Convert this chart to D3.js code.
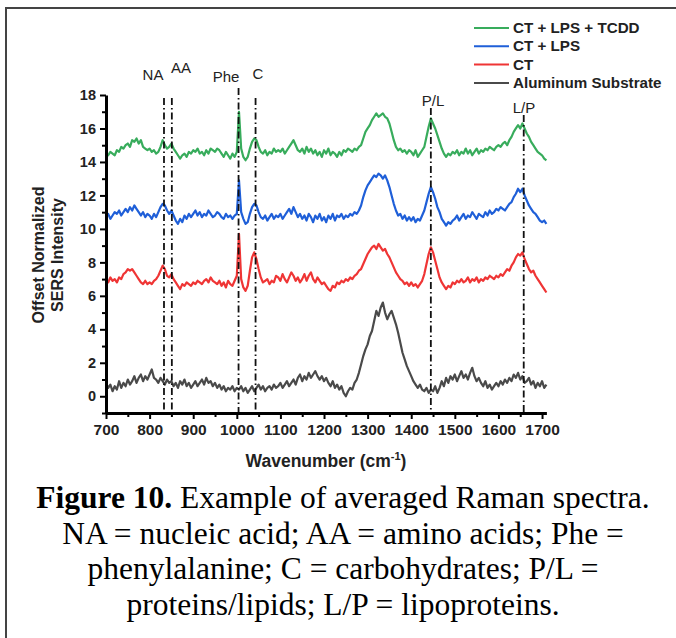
<!DOCTYPE html>
<html lang="en">
<head>
  <meta charset="UTF-8">
  <title>Averaged Raman spectra</title>
  <script src="https://d3js.org/d3.v7.min.js"></script>
  <style>
    body { margin: 0; background: #fff; }
    .axis path.domain { stroke: #000; stroke-width: 3; }
    .axis line { stroke: #000; stroke-width: 2; }
    .axis text { font-family: "Liberation Sans", Arial, sans-serif; font-weight: bold; fill: #222; }
    .xaxis text { font-size: 15.5px; }
    .yaxis text { font-size: 14.5px; }
    .spec { fill: none; stroke-width: 2.2; stroke-linejoin: round; }
  </style>
</head>
<body>
<div id="chart"></div>
<script>
// wavenumbers, every 5 cm-1 from 700 to 1710
const wavenumbers = d3.range(700, 1711, 5);

// series values (offset normalized intensity)
const tcdd = [
  14.5,14.4,14.6,14.5,14.4,14.7,14.6,14.9,14.8,15.0,15.1,14.9,15.3,15.2,15.4,15.1,15.3,14.9,14.8,14.7,
  14.8,14.6,14.7,14.5,14.6,14.9,15.3,15.0,14.8,14.9,15.1,14.8,14.6,14.4,14.2,14.4,14.5,14.3,14.6,14.5,
  14.7,14.6,14.8,14.5,14.6,14.4,14.7,14.5,14.8,14.7,14.6,14.8,14.7,14.5,14.3,14.6,14.4,14.2,14.5,14.3,
  14.6,17.0,14.8,14.3,14.1,14.3,14.8,15.2,15.4,15.3,14.9,14.6,14.5,14.7,14.4,14.6,14.5,14.8,14.6,14.7,
  14.6,14.8,14.5,14.7,14.9,15.1,15.3,15.0,14.7,14.6,14.8,14.5,14.9,14.6,14.8,14.5,14.7,14.4,14.6,14.3,
  14.7,14.5,14.8,14.4,14.6,14.5,14.3,14.6,14.4,14.7,14.6,14.8,14.7,14.6,14.8,14.7,14.9,15.0,15.4,15.8,
  16.0,16.2,16.5,16.7,16.9,16.7,16.8,16.9,16.7,16.6,16.3,15.8,15.3,14.9,14.7,14.8,14.6,14.7,14.5,14.7,
  14.6,14.4,14.7,14.3,14.5,14.7,14.9,15.5,16.1,16.6,16.3,16.0,15.6,15.2,14.8,14.5,14.3,14.5,14.4,14.6,
  14.5,14.7,14.4,14.6,14.5,14.8,14.5,14.7,14.4,14.6,14.8,14.5,14.7,14.6,14.8,14.7,14.9,14.8,14.7,14.9,
  15.0,14.9,15.1,15.2,15.0,15.3,15.5,15.8,16.0,16.2,16.0,16.3,16.0,15.7,15.5,15.2,15.0,14.8,14.6,14.5,
  14.4,14.2,14.1
];
const lps = [
  10.7,10.9,10.6,10.8,11.0,10.9,11.1,10.8,11.0,11.2,11.0,11.3,11.1,11.4,11.2,11.0,10.8,11.0,10.7,10.9,
  10.8,10.6,10.9,10.7,11.0,11.3,11.5,11.4,11.1,10.9,11.1,10.8,10.5,10.3,10.6,10.4,10.8,10.6,10.9,10.7,
  10.9,11.1,10.8,11.0,10.7,10.9,10.8,11.1,10.9,10.7,10.8,11.0,10.9,10.7,10.6,10.9,10.7,10.8,10.6,10.8,
  10.9,12.9,11.0,10.6,10.3,10.4,10.9,11.3,11.5,11.4,11.0,10.7,10.6,10.8,10.5,10.7,10.9,10.6,10.8,10.7,
  10.9,10.6,10.8,11.0,11.2,10.9,11.3,11.0,10.7,10.9,10.6,10.8,10.5,10.9,10.7,10.4,10.8,10.6,10.9,10.5,
  10.7,10.4,10.8,10.6,10.9,10.5,10.8,10.7,10.9,10.6,10.8,10.7,10.9,10.8,11.0,10.9,11.1,11.4,11.9,12.3,
  12.6,12.8,13.0,13.2,13.1,13.3,13.2,13.0,13.2,12.9,12.5,12.0,11.5,11.1,10.8,10.9,10.6,10.8,10.5,10.7,
  10.5,10.7,10.4,10.6,10.5,10.8,11.1,11.6,12.1,12.5,12.2,11.8,11.3,11.0,10.6,10.4,10.2,10.4,10.3,10.5,
  10.6,10.8,10.5,10.7,10.9,10.6,10.8,10.7,11.0,10.8,10.6,10.9,10.8,10.7,11.0,10.8,11.1,10.9,11.0,11.2,
  11.1,11.3,11.2,11.1,11.3,11.5,11.6,11.9,12.1,12.4,12.2,12.4,12.0,11.7,11.4,11.2,11.0,10.9,10.7,10.5,
  10.4,10.5,10.3
];
const ct = [
  7.0,6.8,7.1,6.9,7.0,6.8,7.1,7.0,7.3,7.4,7.6,7.5,7.6,7.4,7.2,7.0,6.8,6.7,6.9,6.7,
  6.8,6.7,6.9,7.0,7.2,7.5,7.8,7.6,7.2,7.1,7.3,7.0,6.8,6.6,6.4,6.7,6.6,6.8,6.7,6.6,
  6.8,6.7,6.9,6.8,6.7,6.9,7.0,6.8,7.1,6.9,6.8,6.7,6.9,6.6,6.8,6.5,6.9,6.7,6.6,6.9,
  7.2,9.7,7.0,6.5,6.3,6.6,7.5,8.3,8.6,8.2,7.6,7.1,6.8,6.9,7.0,6.7,6.9,6.8,7.2,7.1,
  6.9,7.3,7.0,6.8,7.1,7.4,7.2,6.9,7.1,6.8,7.0,7.3,6.9,7.2,7.4,7.0,6.8,7.1,6.9,6.7,
  6.8,6.6,6.4,6.3,6.6,6.5,6.8,6.7,6.9,6.8,7.0,6.9,7.1,7.0,7.2,7.3,7.5,7.6,7.9,8.2,
  8.5,8.7,8.9,9.0,8.8,9.1,8.9,8.7,8.8,8.5,8.3,8.0,7.7,7.4,7.2,7.0,6.9,6.7,6.8,6.6,
  6.8,6.6,6.7,6.5,6.7,6.9,7.3,7.9,8.5,8.9,8.6,8.1,7.6,7.1,6.8,6.6,6.4,6.6,6.5,6.8,
  6.7,6.9,6.8,7.0,6.8,6.9,7.1,6.8,7.0,6.9,7.1,6.8,7.0,6.9,7.1,7.0,7.2,7.1,7.0,7.2,
  7.1,7.3,7.2,7.4,7.6,7.5,7.8,8.0,8.3,8.5,8.4,8.6,8.2,7.9,7.6,7.4,7.5,7.2,7.0,6.8,
  6.6,6.4,6.2
];
const substrate = [
  0.8,0.5,0.7,0.3,0.6,0.4,0.9,0.5,0.8,0.6,1.0,0.7,0.9,1.2,0.8,1.1,1.3,0.9,1.2,1.0,
  1.3,1.6,1.1,1.0,0.8,1.1,0.9,0.7,1.0,0.8,0.9,0.6,0.8,0.5,0.9,0.7,1.0,0.6,0.8,0.5,
  0.7,0.9,0.6,0.8,1.0,0.7,1.1,0.8,0.9,0.6,0.8,0.5,0.7,0.4,0.6,0.3,0.5,0.4,0.6,0.3,
  0.5,0.4,0.6,0.3,0.5,0.2,0.4,0.6,0.3,0.5,0.7,0.4,0.6,0.3,0.5,0.6,0.4,0.7,0.5,0.6,
  0.8,0.5,0.7,0.9,0.6,0.8,1.0,0.7,1.1,1.3,0.9,1.2,1.0,1.4,1.1,1.3,1.5,1.2,1.0,1.2,
  0.9,1.1,0.8,0.6,0.9,0.5,0.7,0.4,0.6,0.2,0.0,0.3,0.5,0.4,0.8,1.0,1.4,1.9,2.4,2.8,
  3.1,3.6,3.9,4.5,5.1,4.8,5.3,5.6,5.0,4.6,4.9,5.1,4.7,4.3,3.8,3.2,2.6,2.2,1.8,1.5,
  1.2,0.9,0.7,0.5,0.7,0.4,0.3,0.5,0.2,0.4,0.3,0.6,0.2,0.5,0.9,0.6,1.1,0.8,1.2,1.0,
  1.3,0.9,1.2,1.5,1.1,1.3,1.0,1.4,1.7,1.2,0.9,1.1,0.8,0.6,0.9,0.5,0.7,0.4,0.6,0.8,
  0.6,0.9,0.7,1.0,0.8,1.1,0.9,1.3,1.1,1.4,1.0,1.2,0.8,0.9,1.1,0.7,0.9,0.5,0.8,0.6,
  0.9,0.5,0.7
];

const seriesNames = ["CT + LPS + TCDD", "CT + LPS", "CT", "Aluminum Substrate"];
const seriesColors = ["#38ac5c", "#1f5fd8", "#ef3535", "#4a4a4a"];
const seriesValues = [tcdd, lps, ct, substrate];

// band markers
const bandLabels = ["NA", "AA", "Phe", "C", "P/L", "L/P"];
const bandPositions = [833, 851, 1004, 1043, 1445, 1658];

const xTicks = d3.range(700, 1701, 100);
const xMinor = d3.range(750, 1701, 100);
const yTicks = d3.range(0, 19, 2);
const yMinor = [-1, 1, 3, 5, 7, 9, 11, 13, 15, 17];

const caption = [
  ["Figure 10.", " Example of averaged Raman spectra."],
  ["", "NA = nucleic acid; AA = amino acids; Phe ="],
  ["", "phenylalanine; C = carbohydrates; P/L ="],
  ["", "proteins/lipids; L/P = lipoproteins."]
];

const W = 676, H = 638;
const svg = d3.select("#chart").append("svg")
  .attr("width", W).attr("height", H);

// frame
svg.append("path")
  .attr("d", `M6,${H} V8 H${W}`)
  .attr("fill", "none").attr("stroke", "#444").attr("stroke-width", 2);

const x = d3.scaleLinear().domain([700, 1710]).range([106, 546.4]);
const y = d3.scaleLinear().domain([-1, 18]).range([413, 95]);

// spectra
const line = d3.line()
  .x((d, i) => x(wavenumbers[i]))
  .y(d => y(d));

svg.append("g")
  .selectAll("path")
  .data(seriesValues.slice().reverse())
  .join("path")
    .attr("class", "spec")
    .attr("stroke", (d, i) => seriesColors[3 - i])
    .attr("d", line);

// dash-dot markers
const bandTop = [98, 98, 88, 98, 108, 115];
const labelPos = [[153, 80], [181, 73], [226, 82], [258, 79], [433, 106], [524, 113]];
const marks = svg.append("g");
bandPositions.forEach((b, i) => {
  marks.append("line")
    .attr("x1", x(b)).attr("x2", x(b))
    .attr("y1", bandTop[i]).attr("y2", 413)
    .attr("stroke", "#111").attr("stroke-width", 1.8)
    .attr("stroke-dasharray", "7,3,1.5,3");
  marks.append("text")
    .attr("x", labelPos[i][0]).attr("y", labelPos[i][1])
    .attr("text-anchor", "middle")
    .style("font-family", "Liberation Sans, Arial, sans-serif")
    .style("font-size", "15px")
    .attr("fill", "#222")
    .text(bandLabels[i]);
});

// axes
svg.append("g").attr("class", "axis xaxis")
  .attr("transform", "translate(0,413)")
  .call(d3.axisBottom(x).tickValues(xTicks).tickFormat(d3.format("d"))
    .tickSize(6).tickSizeOuter(0).tickPadding(5));
svg.append("g").attr("class", "axis")
  .attr("transform", "translate(0,413)")
  .call(d3.axisBottom(x).tickValues(xMinor).tickSize(4).tickFormat(""))
  .select(".domain").remove();
svg.append("g").attr("class", "axis yaxis")
  .attr("transform", "translate(106,0)")
  .call(d3.axisLeft(y).tickValues(yTicks).tickFormat(d3.format("d"))
    .tickSize(6).tickSizeOuter(0).tickPadding(4));
svg.append("g").attr("class", "axis")
  .attr("transform", "translate(106,0)")
  .call(d3.axisLeft(y).tickValues(yMinor).tickSize(4).tickFormat(""))
  .select(".domain").remove();

// axis titles
svg.append("text")
  .attr("x", 326).attr("y", 467)
  .attr("text-anchor", "middle")
  .style("font-family", "Liberation Sans, Arial, sans-serif")
  .style("font-weight", "bold").style("font-size", "17.5px")
  .attr("fill", "#222")
  .html("Wavenumber (cm<tspan dy='-7' font-size='11px'>-1</tspan><tspan dy='7'>)</tspan>");

const yt = svg.append("text")
  .attr("transform", "translate(44,255) rotate(-90)")
  .attr("text-anchor", "middle")
  .style("font-family", "Liberation Sans, Arial, sans-serif")
  .style("font-weight", "bold").style("font-size", "16px")
  .attr("fill", "#222");
yt.append("tspan").attr("x", 0).attr("dy", 0).text("Offset Normalized");
yt.append("tspan").attr("x", 0).attr("dy", 19).text("SERS Intensity");

// legend
const legend = svg.append("g");
seriesNames.forEach((n, i) => {
  const ly = 28 + i * 18.3;
  legend.append("line")
    .attr("x1", 474).attr("x2", 509).attr("y1", ly).attr("y2", ly)
    .attr("stroke", seriesColors[i]).attr("stroke-width", 2);
  legend.append("text")
    .attr("x", 513).attr("y", ly + 5)
    .style("font-family", "Liberation Sans, Arial, sans-serif")
    .style("font-weight", "bold").style("font-size", "15.2px")
    .attr("fill", "#222")
    .text(n);
});

// caption
const cap = svg.append("g");
caption.forEach((c, i) => {
  const t = cap.append("text")
    .attr("x", 343).attr("y", 508 + i * 35.5)
    .attr("text-anchor", "middle")
    .style("font-family", "Liberation Serif, 'Times New Roman', serif")
    .style("font-size", "31.5px")
    .attr("fill", "#000");
  if (c[0]) t.append("tspan").style("font-weight", "bold").text(c[0]);
  t.append("tspan").text(c[1]);
});
</script>
</body>
</html>
